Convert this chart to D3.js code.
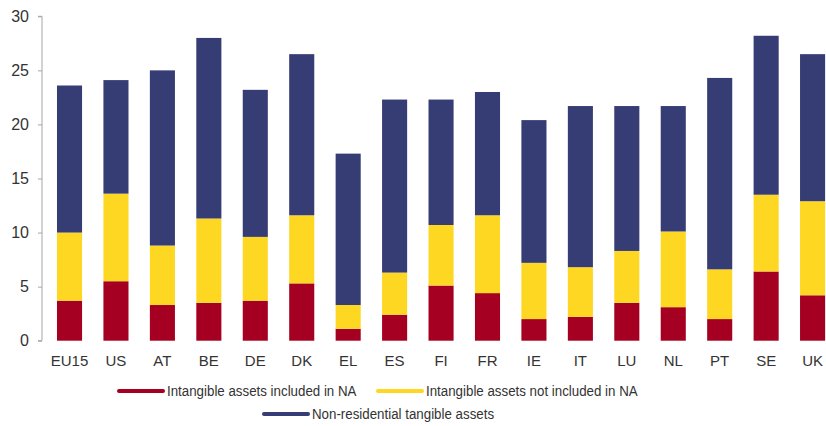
<!doctype html>
<html>
    <head>
        <script src="https://d3js.org/d3.v7.min.js"></script>
        <style>
            body { margin: 0; background: #fff; }
            text {
                font-family: 'Liberation Sans', Arial, sans-serif;
                fill: #333;
            }
            .tick text { font-size: 15px; }
            .y-axis .tick text { font-size: 16px; }
            .legend_text { font-size: 15.5px; }
        </style>
    </head>
    <body>
        <svg height="426" id="chart" width="826"></svg>
        <script>
            const countries = ["EU15", "US", "AT", "BE", "DE", "DK", "EL", "ES", "FI", "FR", "IE", "IT", "LU", "NL", "PT", "SE", "UK"];
            const intangibleNA = [3.7, 5.5, 3.3, 3.5, 3.7, 5.3, 1.1, 2.4, 5.1, 4.4, 2.0, 2.2, 3.5, 3.1, 2.0, 6.4, 4.2];
            const intangibleNotNA = [6.3, 8.1, 5.5, 7.8, 5.9, 6.3, 2.2, 3.9, 5.6, 7.2, 5.2, 4.6, 4.8, 7.0, 4.6, 7.1, 8.7];
            const tangible = [13.6, 10.5, 16.2, 16.7, 13.6, 14.9, 14.0, 16.0, 11.6, 11.4, 13.2, 14.9, 13.4, 11.6, 17.7, 14.7, 13.6];
            const seriesNames = ["Intangible assets included in NA", "Intangible assets not included in NA", "Non-residential tangible assets"];
            const yTicks = [0, 5, 10, 15, 20, 25, 30];

            const colors = ["#a50021", "#fed723", "#363c74"];
            const chart = d3.select("#chart");

            const axisX = 42;
            const scaleX = d3.scaleBand()
                .domain(countries)
                .range([46.3, 835.8])
                .paddingInner(0.46)
                .paddingOuter(0.23);
            const scaleY = d3.scaleLinear()
                .domain([0, 30])
                .range([340.7, 16.3]);

            const rows = countries.map((c, i) => ({
                country: c,
                a: intangibleNA[i],
                b: intangibleNotNA[i],
                c: tangible[i]
            }));
            const stacked = d3.stack().keys(["a", "b", "c"])(rows);

            chart.append("g")
                .selectAll("g")
                .data(stacked)
                .enter()
                .append("g")
                .style("fill", (d, i) => colors[i])
                .selectAll("rect")
                .data(d => d)
                .enter()
                .append("rect")
                .attr("x", d => scaleX(d.data.country))
                .attr("width", scaleX.bandwidth())
                .attr("y", d => scaleY(d[1]))
                .attr("height", d => scaleY(d[0]) - scaleY(d[1]));

            const yAxis = chart.append("g")
                .attr("class", "y-axis")
                .attr("transform", "translate(" + axisX + ",0)")
                .call(d3.axisLeft(scaleY).tickValues(yTicks).tickSize(4).tickPadding(9));
            yAxis.selectAll("line, path").attr("stroke", "#a6a6a6");
            yAxis.select(".domain").attr("d", "M-4," + scaleY(30) + "H0V" + scaleY(0) + "H-4");

            const xAxis = chart.append("g")
                .attr("transform", "translate(0," + scaleY(0) + ")")
                .call(d3.axisBottom(scaleX).tickSize(0).tickPadding(15));
            xAxis.select(".domain").remove();

            // legend, two rows; the source font is narrow, so squeeze the text a bit
            const legendPos = [
                { x: 119, y: 391 },
                { x: 378, y: 391 },
                { x: 264, y: 414 }
            ];
            const legend = chart.append("g")
                .selectAll("g")
                .data(seriesNames)
                .enter()
                .append("g")
                .attr("transform", (d, i) => "translate(" + legendPos[i].x + "," + legendPos[i].y + ")");

            legend.append("line")
                .attr("x1", 0)
                .attr("x2", 44)
                .attr("stroke", (d, i) => colors[i])
                .attr("stroke-width", 4)
                .attr("stroke-linecap", "round");

            legend.append("text")
                .attr("class", "legend_text")
                .attr("transform", "translate(48,0) scale(0.86,1)")
                .attr("dy", "0.35em")
                .text(d => d);
        </script>
    </body>
</html>
